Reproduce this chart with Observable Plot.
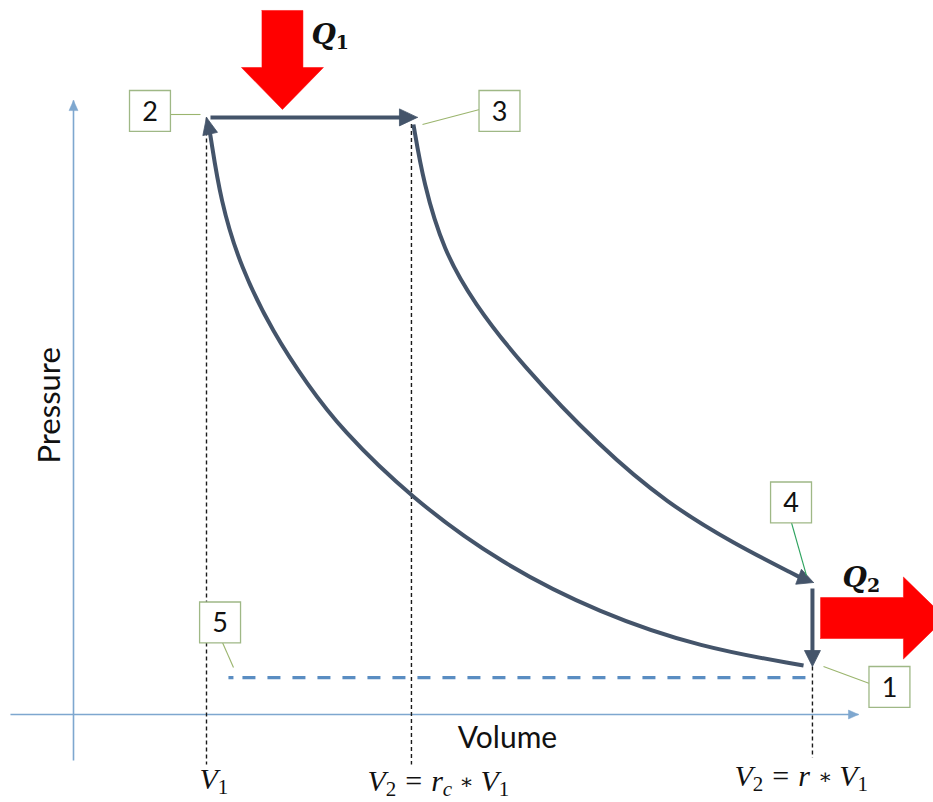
<!DOCTYPE html>
<html><head><meta charset="utf-8">
<script src="https://cdn.jsdelivr.net/npm/d3@7"></script>
<script src="https://cdn.jsdelivr.net/npm/@observablehq/plot@0.6"></script>
<style>html,body{margin:0;padding:0;background:#fff;overflow:hidden}</style>
</head><body><div id="chart"></div>
<script>
// ---------- data (volume in units of V1, pressure in units of p1) ----------
const stateNames = ["1", "2", "3", "4"];
const stateV = [5.556, 1.0, 2.586, 5.564];
const stateP = [1.0, 12.44, 12.44, 2.75];

// adiabatic compression 1 -> 2
const compV = [5.489, 4.714, 3.962, 3.211, 2.534, 2.008, 1.759, 1.504, 1.256, 1.105, 1.030];
const compP = [1.021, 1.396, 2.104, 3.146, 4.521, 5.958, 6.875, 7.938, 9.313, 10.708, 12.063];
// adiabatic expansion 3 -> 4
const expV = [2.556, 2.632, 2.782, 3.008, 3.361, 3.962, 4.466, 4.962, 5.466];
const expP = [12.292, 11.063, 9.667, 8.583, 7.313, 5.563, 4.396, 3.563, 2.854];
// isobaric heat addition 2 -> 3
const isobarV = [1.03, 2.586];
const isobarP = [12.44, 12.44];
// isochoric heat rejection 4 -> 1
const isochorV = [5.556, 5.556];
const isochorP = [2.625, 1.0];
// atmospheric line (5)
const atmV = [1.165, 5.556];
const atmP = [0.77, 0.77];

// reference volumes
const dropV = [1.0, 2.541, 5.556];
const dropTopP = [12.44, 12.3, 1.0];
const dropBottomP = [-1.04, -1.04, -0.9];

// axes
const axisXV = [-0.474, 5.902];
const axisYP = [-0.958, 12.79];

// heat arrows
const heatNames = ["Q1", "Q2"];
const heatStartV = [1.571, 5.617];
const heatStartP = [14.667, 2.01];
const heatTipV = [1.571, 6.556];
const heatTipP = [12.604, 2.01];

// numbered callout boxes
const boxLabels = ["1", "2", "3", "4", "5"];
const boxV = [6.135, 0.575, 3.203, 5.395, 1.102];
const boxP = [0.573, 12.573, 12.573, 4.417, 1.917];
const leadFromV = [5.985, 0.729, 3.053, 5.398, 1.12];
const leadFromP = [0.646, 12.5, 12.604, 4.0, 1.5];
const leadToV = [5.639, 0.955, 2.624, 5.511, 1.203];
const leadToP = [1.0, 12.5, 12.292, 2.896, 0.979];
const leadColors = ["#9bb56e", "#9bb56e", "#9bb56e", "#2ea35f", "#9bb56e"];

// text
const axisTitles = ["Volume", "Pressure"];
const mathLeftV = [0.947, 2.21, 4.97];
const mathBaseP = [-1.562, -1.604, -1.49];
const heatLabelV = [1.789, 5.782];
const heatLabelP = [13.979, 2.66];

// ---------- scales (shared with Plot) ----------
const X = {domain: [0, 7], range: [73, 1004]};
const Y = {domain: [0, 14], range: [714, 42]};
const xs = d3.scaleLinear(X.domain, X.range);
const ys = d3.scaleLinear(Y.domain, Y.range);
const toData = ([a, b]) => ({V: xs.invert(a), P: ys.invert(b)});

function arrowHead(tipV, tipP, fromV, fromP, len, hw) {
  const tx = xs(tipV), ty = ys(tipP), fx = xs(fromV), fy = ys(fromP);
  let dx = tx - fx, dy = ty - fy; const L = Math.hypot(dx, dy); dx /= L; dy /= L;
  const bx = tx - dx * len, by = ty - dy * len, px = -dy, py = dx;
  return {
    poly: [[tx, ty], [bx + px * hw, by + py * hw], [bx - px * hw, by - py * hw], [tx, ty]].map(toData),
    base: toData([bx + dx * 1.5, by + dy * 1.5])
  };
}
function fatArrow(sV, sP, tV, tP, shaftHW, headHW, headLen) {
  const sx = xs(sV), sy = ys(sP), tx = xs(tV), ty = ys(tP);
  let dx = tx - sx, dy = ty - sy; const L = Math.hypot(dx, dy); dx /= L; dy /= L;
  const px = -dy, py = dx, bx = tx - dx * headLen, by = ty - dy * headLen;
  return [
    [sx + px * shaftHW, sy + py * shaftHW], [bx + px * shaftHW, by + py * shaftHW],
    [bx + px * headHW, by + py * headHW], [tx, ty],
    [bx - px * headHW, by - py * headHW], [bx - px * shaftHW, by - py * shaftHW],
    [sx - px * shaftHW, sy - py * shaftHW], [sx + px * shaftHW, sy + py * shaftHW]
  ].map(toData);
}

const curveColor = "#44546a";
const axisColor = "#7ea7cf";
const marks = [];

// axes
marks.push(Plot.link([0], {x1: axisXV[0], x2: axisXV[1], y1: 0, y2: 0, stroke: axisColor, strokeWidth: 1.6}));
marks.push(Plot.link([0], {x1: 0, x2: 0, y1: axisYP[0], y2: axisYP[1], stroke: axisColor, strokeWidth: 1.6}));
const axh1 = arrowHead(axisXV[1], 0, 0, 0, 10, 4.5);
const axh2 = arrowHead(0, axisYP[1], 0, 0, 10, 4.5);
for (const h of [axh1, axh2]) marks.push(Plot.line(h.poly, {x: "V", y: "P", fill: axisColor, stroke: axisColor, strokeWidth: 0.5}));

// reference verticals
marks.push(Plot.link(dropV, {x1: d => d, x2: d => d, y1: (d, i) => dropTopP[i], y2: (d, i) => dropBottomP[i],
  stroke: "#1a1a1a", strokeWidth: 1.4, strokeDasharray: "4,3"}));
// atmospheric line
marks.push(Plot.link([0], {x1: atmV[0], x2: atmV[1], y1: atmP[0], y2: atmP[1],
  stroke: "#5a8dc2", strokeWidth: 3.2, strokeDasharray: "5,9,13,12,13,12,13,12,13,12,13,12,13,12,13,12,13,12,13,12,13,12,13,12,13,12,13,12,13,12,13,12,13,12,13,12,13,12,13,12,13,12,13,12,13,12,13,12"}));

// process lines with arrow heads
const hComp = arrowHead(stateV[1], stateP[1], compV[compV.length - 1], compP[compP.length - 1], 17, 7.5);
const hIsobar = arrowHead(stateV[2], stateP[2], isobarV[0], isobarP[0], 18, 8.5);
const hExp = arrowHead(stateV[3], stateP[3], expV[expV.length - 1], expP[expP.length - 1], 16, 8);
const hIsochor = arrowHead(stateV[0], stateP[0], isochorV[0], isochorP[0], 16, 8);

const comp = compV.map((v, i) => ({V: v, P: compP[i]})).concat([hComp.base]);
const exp = expV.map((v, i) => ({V: v, P: expP[i]})).concat([hExp.base]);
const isobar = [{V: isobarV[0], P: isobarP[0]}, hIsobar.base];
const isochor = [{V: isochorV[0], P: isochorP[0]}, hIsochor.base];
for (const d of [comp, exp]) marks.push(Plot.line(d, {x: "V", y: "P", curve: "basis", stroke: curveColor, strokeWidth: 4, strokeLinecap: "butt"}));
for (const d of [isobar, isochor]) marks.push(Plot.line(d, {x: "V", y: "P", stroke: curveColor, strokeWidth: 4, strokeLinecap: "butt"}));
for (const h of [hComp, hIsobar, hExp, hIsochor]) marks.push(Plot.line(h.poly, {x: "V", y: "P", fill: curveColor, stroke: curveColor, strokeWidth: 0.8}));

// heat arrows
heatNames.forEach((n, i) => {
  const poly = fatArrow(heatStartV[i], heatStartP[i], heatTipV[i], heatTipP[i], 20.5, 41, 42);
  marks.push(Plot.line(poly, {x: "V", y: "P", fill: "#ff0000", stroke: "#ff0000", strokeWidth: 0.5}));
});

// callouts
marks.push(Plot.link(boxLabels, {x1: (d, i) => leadFromV[i], y1: (d, i) => leadFromP[i], x2: (d, i) => leadToV[i], y2: (d, i) => leadToP[i],
  stroke: (d, i) => leadColors[i], strokeWidth: 1.1}));
marks.push(Plot.dot(boxLabels, {x: (d, i) => boxV[i], y: (d, i) => boxP[i], symbol: "square", r: 23.1,
  fill: "white", stroke: "#9fb886", strokeWidth: 1.3}));
marks.push(Plot.text(boxLabels, {x: (d, i) => boxV[i], y: (d, i) => boxP[i], text: d => d,
  fontFamily: "Lato", fontSize: 27, fill: "#111", dy: 1}));

// axis titles
marks.push(Plot.text([axisTitles[0]], {x: 3.263, y: -0.708, text: d => d, lineAnchor: "bottom",
  fontFamily: "Lato", fontSize: 30, fill: "#111"}));
marks.push(Plot.text([axisTitles[1]], {x: -0.173, y: 6.44, text: d => d, rotate: -90,
  fontFamily: "Lato", fontSize: 31, fill: "#111"}));

// math labels
const ctx = document.createElement("canvas").getContext("2d");
function measure(t, style, weight, size, fam) { ctx.font = `${style} ${weight} ${size}px "${fam}"`; return ctx.measureText(t).width; }
function mathMarks(segs, leftV, baseP, fam) {
  let off = 0;
  for (const s of segs) {
    if (s.gap != null) { off += s.gap; continue; }
    const style = s.style || "normal", weight = s.weight || "normal", f = s.fam || fam;
    marks.push(Plot.text([s], {x: () => leftV, y: () => baseP, text: d => d.t, dx: off, dy: s.dy || 0,
      textAnchor: "start", lineAnchor: "bottom", fontFamily: f, fontSize: s.size,
      fontStyle: style, fontWeight: weight, fill: "#111"}));
    off += measure(s.t, style, weight, s.size, f) + (s.kern || 0);
  }
}
const SERIF = "Liberation Serif";
const M = 30, S = 21, SD = 5;
const vSym = {t: "V", style: "italic", size: M, kern: 0};
const star = {t: "\u2217", size: 21, dy: -2, fam: "DejaVu Serif"};
mathMarks([vSym, {t: "1", size: S, dy: SD}], mathLeftV[0], mathBaseP[0], SERIF);
mathMarks([vSym, {t: "2", size: S, dy: SD}, {gap: 9}, {t: "=", size: M}, {gap: 9},
  {t: "r", style: "italic", size: M}, {t: "c", style: "italic", size: S, dy: SD}, {gap: 7}, star, {gap: 7},
  vSym, {t: "1", size: S, dy: SD}], mathLeftV[1], mathBaseP[1], SERIF);
mathMarks([vSym, {t: "2", size: S, dy: SD}, {gap: 9}, {t: "=", size: M}, {gap: 9},
  {t: "r", style: "italic", size: M}, {gap: 8}, star, {gap: 7},
  vSym, {t: "1", size: S, dy: SD}], mathLeftV[2], mathBaseP[2], SERIF);
heatNames.forEach((n, i) => {
  mathMarks([{t: "Q", style: "italic", weight: "bold", size: 28, kern: 0}, {t: n.slice(1), weight: "bold", size: 19, dy: 5}],
    heatLabelV[i], heatLabelP[i], "DejaVu Serif");
});

const chart = Plot.plot({
  width: 933, height: 802, margin: 0,
  x: {...X, axis: null}, y: {...Y, axis: null},
  style: {background: "white"},
  marks
});
document.getElementById("chart").appendChild(chart);
</script></body></html>
